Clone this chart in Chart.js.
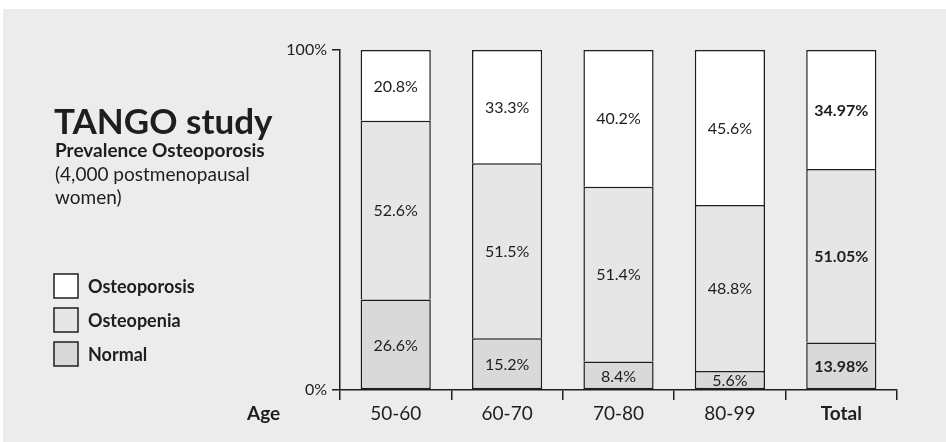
<!DOCTYPE html>
<html lang="en">
<head>
  <meta charset="UTF-8" />
  <script src="https://cdn.jsdelivr.net/npm/chart.js"></script>
  <title>TANGO study</title>
  <style>
    html, body { margin: 0; padding: 0; background: #fff; }
    #wrap { width: 946px; height: 442px; }
  </style>
</head>
<body>
  <div id="wrap"><canvas id="tango"></canvas></div>

  <script>
    // data
    const ageGroups = ['50-60', '60-70', '70-80', '80-99', 'Total'];
    const normal = [26.6, 15.2, 8.4, 5.6, 13.98];
    const osteopenia = [52.6, 51.5, 51.4, 48.8, 51.05];
    const osteoporosis = [20.8, 33.3, 40.2, 45.6, 34.97];
    const yTicks = [0, 100];

    const FONT = 'Lato, "Open Sans", sans-serif';
    const INK = '#1e1e1e';
    const upperBorder = { top: 1.5, left: 1.5, right: 1.5, bottom: 0 };

    // gray panel behind everything
    const panel = {
      id: 'panel',
      beforeDraw(chart) {
        const c = chart.ctx;
        c.save();
        c.fillStyle = '#ececec';
        c.fillRect(3, 9, chart.width, chart.height);
        c.restore();
      }
    };

    // percent labels inside each segment, plus title, legend and "Age"
    const extras = {
      id: 'extras',
      afterDatasetsDraw(chart) {
        const c = chart.ctx;
        c.save();
        c.fillStyle = INK;
        c.textAlign = 'center';
        c.textBaseline = 'middle';
        chart.data.datasets.forEach((ds, di) => {
          chart.getDatasetMeta(di).data.forEach((bar, i) => {
            const last = i === ds.data.length - 1;
            c.font = (last ? 'bold ' : '') + '16px ' + FONT;
            const v = ds.data[i];
            const txt = (last ? v.toFixed(2) : v.toFixed(1)) + '%';
            c.fillText(txt, bar.x, (bar.y + bar.base) / 2 + 1);
          });
        });

        // title block
        c.textAlign = 'left';
        c.textBaseline = 'alphabetic';
        c.font = 'bold 35px ' + FONT;
        c.fillText('TANGO study', 54, 134);
        c.font = 'bold 19px ' + FONT;
        c.fillText('Prevalence Osteoporosis', 55, 157);
        c.font = '19px ' + FONT;
        c.fillText('(4,000 postmenopausal', 55, 181);
        c.fillText('women)', 55, 204);

        // legend, top to bottom
        const order = [2, 1, 0];
        order.forEach((di, k) => {
          const ds = chart.data.datasets[di];
          const y = 274 + k * 34;
          c.fillStyle = ds.backgroundColor;
          c.fillRect(54, y, 24, 24);
          c.strokeStyle = INK;
          c.lineWidth = 1.5;
          c.strokeRect(54, y, 24, 24);
          c.fillStyle = INK;
          c.font = 'bold 18px ' + FONT;
          c.textBaseline = 'middle';
          c.fillText(ds.label, 88, y + 13);
        });

        c.font = 'bold 19px ' + FONT;
        c.textBaseline = 'middle';
        c.fillText('Age', 247, 414);
        c.restore();
      }
    };

    new Chart(document.getElementById('tango'), {
      type: 'bar',
      data: {
        labels: ageGroups,
        datasets: [
          { label: 'Normal', data: normal, backgroundColor: '#d9d9d9', borderWidth: 1.5 },
          { label: 'Osteopenia', data: osteopenia, backgroundColor: '#e6e6e6', borderWidth: upperBorder },
          { label: 'Osteoporosis', data: osteoporosis, backgroundColor: '#ffffff', borderWidth: upperBorder }
        ]
      },
      options: {
        responsive: true,
        maintainAspectRatio: false,
        animation: false,
        layout: { padding: { left: 280, right: 49, top: 50, bottom: 0 } },
        datasets: {
          bar: {
            borderColor: INK,
            borderSkipped: false,
            categoryPercentage: 1,
            barPercentage: 0.63
          }
        },
        plugins: {
          legend: { display: false },
          tooltip: { enabled: false }
        },
        scales: {
          x: {
            stacked: true,
            grid: { offset: true, drawOnChartArea: false, tickLength: 10, color: INK, lineWidth: 1.5 },
            border: { color: INK, width: 1.5 },
            ticks: {
              color: INK,
              padding: 2,
              font: ctx => ({ family: FONT, size: 19, weight: ctx.index === ageGroups.length - 1 ? 'bold' : 'normal' })
            },
            afterFit: s => { s.height = 52; }
          },
          y: {
            stacked: true,
            min: 0,
            max: 100,
            afterBuildTicks: s => { s.ticks = yTicks.map(v => ({ value: v })); },
            grid: { drawOnChartArea: false, tickLength: 8, color: INK, lineWidth: 1.5 },
            border: { color: INK, width: 1.5 },
            ticks: {
              color: INK,
              padding: 5,
              font: { family: FONT, size: 16 },
              callback: v => v + '%'
            },
            afterFit: s => { s.width = 60; }
          }
        }
      },
      plugins: [panel, extras]
    });
  </script>
</body>
</html>
